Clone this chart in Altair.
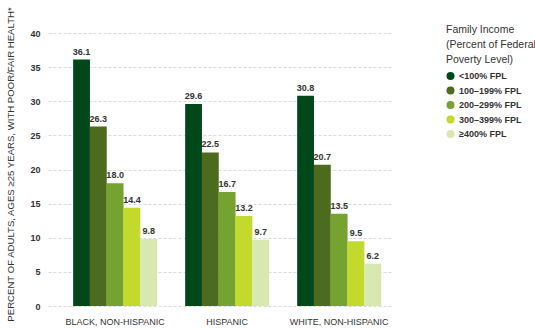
import altair as alt
import pandas as pd

groups = ["BLACK, NON-HISPANIC", "HISPANIC", "WHITE, NON-HISPANIC"]
incomes = ["<100% FPL", "100–199% FPL", "200–299% FPL", "300–399% FPL", "≥400% FPL"]
black_vals = [36.1, 26.3, 18.0, 14.4, 9.8]
hispanic_vals = [29.6, 22.5, 16.7, 13.2, 9.7]
white_vals = [30.8, 20.7, 13.5, 9.5, 6.2]
colors = ["#00481a", "#4c6b1c", "#76a22f", "#c3d92c", "#d8e8b0"]
y_ticks = [0, 5, 10, 15, 20, 25, 30, 35, 40]

rows = []
for g, vals in zip(groups, [black_vals, hispanic_vals, white_vals]):
    for inc, v in zip(incomes, vals):
        rows.append({"group": g, "income": inc, "value": v, "label": f"{v:.1f}"})
df = pd.DataFrame(rows)

font = "Liberation Sans"

x_enc = alt.X(
    "group:N",
    sort=groups,
    scale=alt.Scale(paddingInner=0.25, paddingOuter=0.165, align=0.68),
    axis=alt.Axis(
        title=None, labelAngle=0, ticks=False, domain=False, grid=False,
        labelPadding=11, labelFontSize=9, labelColor="#333333", labelFont=font,
    ),
)
xoff = alt.XOffset("income:N", sort=incomes, scale=alt.Scale(paddingInner=0, paddingOuter=0))
y_enc = alt.Y(
    "value:Q",
    scale=alt.Scale(domain=[0, 40], nice=False),
    axis=alt.Axis(
        values=y_ticks, labelOverlap=False,
        title="PERCENT OF ADULTS, AGES ≥25 YEARS, WITH POOR/FAIR HEALTH*",
        titleFontSize=9.6, titleFontWeight="normal", titleColor="#333333", titleFont=font,
        titleX=-33, titleY=131,
        ticks=False, domain=False, labelPadding=8, labelFontSize=9,
        labelFontWeight="bold", labelColor="#333333", labelFont=font,
        grid=True, gridColor="#d0d0d0", gridDash=[3, 2], gridWidth=0.8,
    ),
)

base = alt.Chart(df).encode(x=x_enc, xOffset=xoff, y=y_enc)

bars = base.mark_bar().encode(
    color=alt.Color(
        "income:N",
        sort=incomes,
        scale=alt.Scale(domain=incomes, range=colors),
        legend=alt.Legend(
            title=["Family Income", "(Percent of Federal", "Poverty Level)"],
            titleFontSize=10.5, titleFontWeight="normal", titleColor="#333333",
            titleFont=font, titleLineHeight=15, titlePadding=6,
            labelFontSize=9, labelFontWeight="bold", labelColor="#333333", labelFont=font,
            symbolType="circle", symbolSize=64, symbolStrokeWidth=0,
            rowPadding=4.5, labelOffset=4,
            orient="none", legendX=398, legendY=-8,
        ),
    ),
)

labels = base.mark_text(
    baseline="bottom", dy=-3, fontSize=9, fontWeight="bold", color="#333333", font=font
).encode(text="label:N")

chart = (
    alt.layer(bars, labels)
    .properties(
        width=345, height=273,
        autosize=alt.AutoSizeParams(type="none"),
        padding={"left": 48, "top": 33, "right": 142, "bottom": 24},
    )
    .configure_view(stroke=None)
    .configure_axisX(grid=False, domain=False)
    .configure_axisY(domain=False)
    .configure(background="white", style={"cell": {"stroke": "transparent"}})
)

chart.save("out.html", embed_options={"renderer": "svg", "actions": False})
